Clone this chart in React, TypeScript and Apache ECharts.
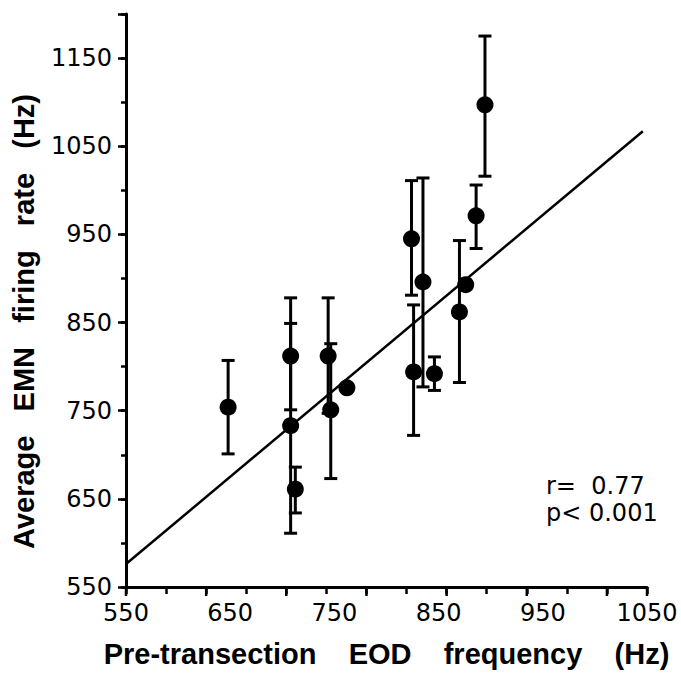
import React, { useEffect, useRef } from "react";
import * as echarts from "echarts";

// Pre-transection EOD frequency (Hz)
const eodFreq = [648, 708, 708, 712.5, 744, 746.5, 762, 824, 826, 835, 846, 870, 876, 886, 894.5];
// Average EMN firing rate (Hz)
const emnRate = [754, 812, 733, 661, 812, 751, 776, 945, 794, 896, 792, 862, 893, 971, 1097];
// error bar ends (null = no bar)
const errLow = [701, 751, 611, 634, 747, 673, null, 881, 722, 777, 773, 782, null, 934, 1016];
const errHigh = [807, 878, 849, 686, 878, 826, null, 1011, 870, 1014, 811, 943, null, 1006, 1175];
// regression line end points
const fitX = [550, 1046];
const fitY = [576, 1067];

const xTickLabels = [550, 650, 750, 850, 950, 1050];
const yTickLabels = [550, 650, 750, 850, 950, 1050, 1150];
// x-axis tick marks as printed in the figure (evenly spaced, not aligned with labels)
const xTickMarks = [550, 588.46, 626.92, 665.38, 703.85, 742.31, 780.77, 819.23, 857.69, 896.15, 934.62, 973.08, 1011.54, 1050];

const SP4 = "\u00A0\u00A0\u00A0\u00A0";
const SP3 = "\u00A0\u00A0\u00A0";

export default function App() {
  const ref = useRef<HTMLDivElement>(null);
  useEffect(() => {
    document.body.style.margin = "0";
    if (!ref.current) return;
    const chart = echarts.init(ref.current, null, { renderer: "svg" });
    const errData = eodFreq
      .map((x, i) => [x, errLow[i], errHigh[i]])
      .filter((d) => d[1] != null && d[2] != null);
    const tickFont = { fontFamily: "DejaVu Sans", fontSize: 24, color: "#000" };
    const titleFont = { fontFamily: "Liberation Sans", fontSize: 29, fontWeight: "bold" as const, color: "#000" };
    const statsText = {
      type: "text",
      left: 546,
      top: 472,
      style: {
        text: "r=\u00A0\u00A00.77\np<\u00A00.001",
        fontFamily: "DejaVu Sans",
        fontSize: 24,
        lineHeight: 27,
        fill: "#000",
      },
    };
    chart.setOption({
      animation: false,
      backgroundColor: "#fff",
      grid: { left: 126, right: 34, top: 14, bottom: 96 },
      xAxis: [
        {
          type: "value",
          min: 550,
          max: 1050,
          interval: 100,
          position: "bottom",
          name: "Pre-transection" + SP4 + "EOD" + SP4 + "frequency" + SP4 + "(Hz)",
          nameLocation: "middle",
          nameGap: 52,
          nameTextStyle: titleFont,
          axisLine: { show: true, onZero: false, lineStyle: { color: "#000", width: 3 } },
          axisTick: {
            show: true,
            customValues: xTickMarks,
            length: 7,
            lineStyle: { color: "#000", width: 2.5 },
          },
          axisLabel: {
            ...tickFont,
            margin: 14,
            formatter: (v: number) => (xTickLabels.includes(v) ? String(v) : ""),
          },
          splitLine: { show: false },
        },
      ],
      yAxis: [
        {
          type: "value",
          min: 550,
          max: 1200,
          interval: 100,
          name: "Average" + SP3 + "EMN" + SP3 + "firing" + SP3 + "rate" + SP3 + "(Hz)",
          nameLocation: "middle",
          nameGap: 88,
          nameTextStyle: { ...titleFont, padding: [0, 42, 0, 0] },
          axisLine: { show: true, onZero: false, lineStyle: { color: "#000", width: 3 } },
          axisTick: { show: true, length: 8, lineStyle: { color: "#000", width: 2.5 } },
          axisLabel: {
            ...tickFont,
            margin: 14,
            formatter: (v: number) => (yTickLabels.includes(v) ? String(v) : ""),
          },
          splitLine: { show: false },
        },
        {
          type: "value",
          min: 550,
          max: 1200,
          interval: 50,
          position: "left",
          axisLine: { show: false, onZero: false },
          axisTick: { show: true, length: 5, lineStyle: { color: "#000", width: 2.5 } },
          axisLabel: { show: false },
          splitLine: { show: false },
        },
      ],
      graphic: [statsText],
      series: [
        {
          type: "line",
          xAxisIndex: 0,
          yAxisIndex: 0,
          data: fitX.map((x, i) => [x, fitY[i]]),
          symbol: "none",
          lineStyle: { color: "#000", width: 2.5 },
          z: 2,
        },
        {
          type: "custom",
          xAxisIndex: 0,
          yAxisIndex: 0,
          data: errData,
          encode: { x: 0, y: [1, 2] },
          z: 3,
          renderItem: (params: any, api: any) => {
            const x = api.value(0);
            const lo = api.value(1);
            const hi = api.value(2);
            const pHi = api.coord([x, hi]);
            const pLo = api.coord([x, lo]);
            const w = 6.5;
            const st = { stroke: "#000", lineWidth: 3 };
            return {
              type: "group",
              children: [
                { type: "line", shape: { x1: pHi[0], y1: pHi[1], x2: pLo[0], y2: pLo[1] }, style: st },
                { type: "line", shape: { x1: pHi[0] - w, y1: pHi[1], x2: pHi[0] + w, y2: pHi[1] }, style: st },
                { type: "line", shape: { x1: pLo[0] - w, y1: pLo[1], x2: pLo[0] + w, y2: pLo[1] }, style: st },
              ],
            };
          },
        },
        {
          type: "scatter",
          xAxisIndex: 0,
          yAxisIndex: 0,
          data: eodFreq.map((x, i) => [x, emnRate[i]]),
          symbol: "circle",
          symbolSize: 17,
          itemStyle: { color: "#000", opacity: 1 },
          z: 4,
        },
      ],
    });
    // longer marks at every other tick, placed through the axis scale
    const px = xTickMarks.map((v) => chart.convertToPixel({ xAxisIndex: 0 }, v) as number);
    const py = chart.convertToPixel({ yAxisIndex: 0 }, 550) as number;
    const tickEls = px
      .map((x, i) => ({ x, major: i % 2 === 0 || i === xTickMarks.length - 1 }))
      .filter((t) => t.major && isFinite(t.x) && isFinite(py))
      .map((t) => ({
        type: "line",
        silent: true,
        z: 100,
        shape: { x1: t.x, y1: py, x2: t.x, y2: py + 9 },
        style: { stroke: "#000", lineWidth: 2.5 },
      }));
    chart.setOption({ graphic: [statsText, ...tickEls] });
    return () => chart.dispose();
  }, []);
  return <div ref={ref} style={{ width: 681, height: 683 }} />;
}
